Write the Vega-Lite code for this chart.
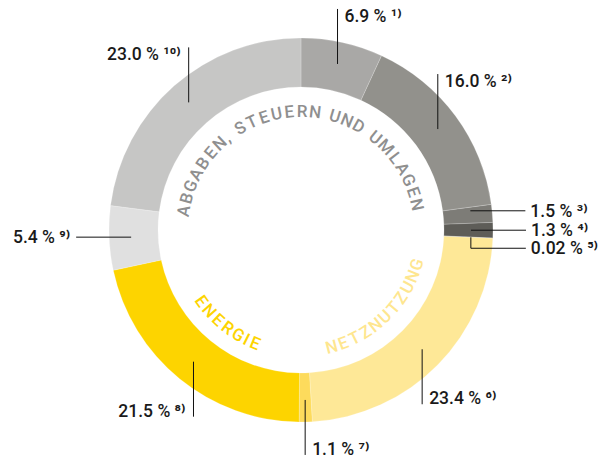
{
  "$schema": "https://vega.github.io/schema/vega-lite/v6.json",
  "width": 610,
  "height": 462,
  "autosize": "none",
  "padding": 0,
  "config": {"view": {"stroke": null}},
  "layer": [
    {
      "data": {"values": [
        {"k": 1, "v": 6.9, "label": "6.9 % ¹⁾"},
        {"k": 2, "v": 16.0, "label": "16.0 % ²⁾"},
        {"k": 3, "v": 1.5, "label": "1.5 % ³⁾"},
        {"k": 4, "v": 1.3, "label": "1.3 % ⁴⁾"},
        {"k": 5, "v": 0.02, "label": "0.02 % ⁵⁾"},
        {"k": 6, "v": 23.4, "label": "23.4 % ⁶⁾"},
        {"k": 7, "v": 1.1, "label": "1.1 % ⁷⁾"},
        {"k": 8, "v": 21.5, "label": "21.5 % ⁸⁾"},
        {"k": 9, "v": 5.4, "label": "5.4 % ⁹⁾"},
        {"k": 10, "v": 23.0, "label": "23.0 % ¹⁰⁾"}
      ]},
      "transform": [
        {"window": [{"op": "sum", "field": "v", "as": "cum"}], "sort": [{"field": "k"}], "frame": [null, 0]},
        {"joinaggregate": [{"op": "sum", "field": "v", "as": "tot"}]},
        {"calculate": "(datum.cum - datum.v/2)/datum.tot*2*PI", "as": "mid"},
        {"calculate": "sin(datum.mid)", "as": "s"},
        {"calculate": "cos(datum.mid)", "as": "c"},
        {"calculate": "abs(datum.s) > 0.95", "as": "side"},
        {"calculate": "170*datum.s", "as": "ax"},
        {"calculate": "170*datum.c", "as": "ay"},
        {"calculate": "datum.v < 0.1 ? datum.ay - 11 : (datum.k == 3 ? datum.ay + 4.5 : datum.ay)", "as": "by"},
        {"calculate": "datum.k == 3 ? datum.by : datum.ay", "as": "ay2"},
        {"calculate": "datum.side ? datum.ax + (datum.s > 0 ? 55 : -55) : datum.ax", "as": "ex"},
        {"calculate": "datum.side ? datum.by : datum.by + (datum.c > 0 ? 55 : -55)", "as": "ey"},
        {"calculate": "datum.ex + (datum.s > 0 ? (datum.side ? 5 : 7) : (datum.side ? -6 : -8))", "as": "lx"},
        {"calculate": "datum.side ? datum.ey - 6 : (datum.c > 0 ? datum.ey - 13 : datum.ey)", "as": "ly"}
      ],
      "layer": [
        {
          "mark": {"type": "arc", "radius": 192, "innerRadius": 143, "stroke": "#ffffff", "strokeWidth": 0.4, "strokeOpacity": 0.5},
          "encoding": {
            "theta": {"field": "v", "type": "quantitative", "stack": true},
            "order": {"field": "k", "type": "quantitative"},
            "x": {"datum": 0, "type": "quantitative", "scale": {"domain": [-301, 309], "zero": false, "nice": false}, "axis": null},
            "y": {"datum": 0, "type": "quantitative", "scale": {"domain": [-232, 230], "zero": false, "nice": false}, "axis": null},
            "color": {"field": "k", "type": "ordinal", "legend": null,
              "scale": {"domain": [1, 2, 3, 4, 5, 6, 7, 8, 9, 10],
                "range": ["#a9a8a6", "#92918c", "#7d7c77", "#5e5d58", "#3e3d3a", "#fee897", "#fddb5c", "#fdd400", "#e0e0e0", "#c6c6c5"]}}
          }
        },
        {
          "mark": {"type": "rule", "color": "#111111", "strokeWidth": 1},
          "encoding": {
            "x": {"field": "ax", "type": "quantitative"},
            "y": {"field": "ay2", "type": "quantitative"},
            "x2": {"field": "ax"},
            "y2": {"field": "by"}
          }
        },
        {
          "mark": {"type": "rule", "color": "#111111", "strokeWidth": 1},
          "encoding": {
            "x": {"field": "ax", "type": "quantitative"},
            "y": {"field": "by", "type": "quantitative"},
            "x2": {"field": "ex"},
            "y2": {"field": "ey"}
          }
        },
        {
          "transform": [{"filter": "datum.s > 0"}],
          "mark": {"type": "text", "align": "left", "baseline": "alphabetic", "font": "Roboto", "fontSize": 17.5, "fontWeight": 500, "color": "#1a1a1a"},
          "encoding": {
            "x": {"field": "lx", "type": "quantitative"},
            "y": {"field": "ly", "type": "quantitative"},
            "text": {"field": "label"}
          }
        },
        {
          "transform": [{"filter": "datum.s <= 0"}],
          "mark": {"type": "text", "align": "right", "baseline": "alphabetic", "font": "Roboto", "fontSize": 17.5, "fontWeight": 500, "color": "#1a1a1a"},
          "encoding": {
            "x": {"field": "lx", "type": "quantitative"},
            "y": {"field": "ly", "type": "quantitative"},
            "text": {"field": "label"}
          }
        }
      ]
    },
    {
      "data": {"values": [{"t": "ABGABEN, STEUERN UND UMLAGEN"}]},
      "transform": [
        {"calculate": "split(datum.t, '')", "as": "ch"},
        {"flatten": ["ch"]},
        {"window": [{"op": "row_number", "as": "i"}]},
        {"calculate": "datum.ch == ' ' ? 0.55 : datum.ch == ',' ? 0.45 : datum.ch == 'I' ? 0.5 : datum.ch == 'M' ? 1.2 : 1", "as": "w"},
        {"window": [{"op": "sum", "field": "w", "as": "cw"}], "sort": [{"field": "i"}], "frame": [null, 0]},
        {"joinaggregate": [{"op": "sum", "field": "w", "as": "tw"}]},
        {"calculate": "-1.6 + (datum.cw - datum.w/2 - datum.tw/2)*12.9/118*180/PI", "as": "deg"},
        {"calculate": "118*sin(datum.deg*PI/180)", "as": "px"},
        {"calculate": "118*cos(datum.deg*PI/180)", "as": "py"},
        {"calculate": "(datum.deg + 360) % 360", "as": "rot"}
      ],
      "mark": {"type": "text", "align": "center", "baseline": "middle", "font": "Roboto", "fontSize": 17, "fontWeight": 500, "color": "#8f8f8f"},
      "encoding": {
        "x": {"field": "px", "type": "quantitative"},
        "y": {"field": "py", "type": "quantitative"},
        "text": {"field": "ch"},
        "angle": {"field": "rot", "type": "quantitative", "scale": null}
      }
    },
    {
      "data": {"values": [{"t": "ENERGIE"}]},
      "transform": [
        {"calculate": "split(datum.t, '')", "as": "ch"},
        {"flatten": ["ch"]},
        {"window": [{"op": "row_number", "as": "i"}]},
        {"calculate": "datum.ch == 'I' ? 0.5 : 1", "as": "w"},
        {"window": [{"op": "sum", "field": "w", "as": "cw"}], "sort": [{"field": "i"}], "frame": [null, 0]},
        {"joinaggregate": [{"op": "sum", "field": "w", "as": "tw"}]},
        {"calculate": "218.3 - (datum.cw - datum.w/2 - datum.tw/2)*12.65/123*180/PI", "as": "deg"},
        {"calculate": "123*sin(datum.deg*PI/180)", "as": "px"},
        {"calculate": "123*cos(datum.deg*PI/180)", "as": "py"},
        {"calculate": "(datum.deg - 180 + 360) % 360", "as": "rot"}
      ],
      "mark": {"type": "text", "align": "center", "baseline": "middle", "font": "Roboto", "fontSize": 17, "fontWeight": 500, "color": "#fdd400"},
      "encoding": {
        "x": {"field": "px", "type": "quantitative"},
        "y": {"field": "py", "type": "quantitative"},
        "text": {"field": "ch"},
        "angle": {"field": "rot", "type": "quantitative", "scale": null}
      }
    },
    {
      "data": {"values": [{"t": "NETZNUTZUNG"}]},
      "transform": [
        {"calculate": "split(datum.t, '')", "as": "ch"},
        {"flatten": ["ch"]},
        {"window": [{"op": "row_number", "as": "i"}]},
        {"calculate": "1", "as": "w"},
        {"window": [{"op": "sum", "field": "w", "as": "cw"}], "sort": [{"field": "i"}], "frame": [null, 0]},
        {"joinaggregate": [{"op": "sum", "field": "w", "as": "tw"}]},
        {"calculate": "136 - (datum.cw - datum.w/2 - datum.tw/2)*12.45/121.5*180/PI", "as": "deg"},
        {"calculate": "121.5*sin(datum.deg*PI/180)", "as": "px"},
        {"calculate": "121.5*cos(datum.deg*PI/180)", "as": "py"},
        {"calculate": "(datum.deg - 180 + 360) % 360", "as": "rot"}
      ],
      "mark": {"type": "text", "align": "center", "baseline": "middle", "font": "Roboto", "fontSize": 17, "fontWeight": 500, "color": "#fee68f"},
      "encoding": {
        "x": {"field": "px", "type": "quantitative"},
        "y": {"field": "py", "type": "quantitative"},
        "text": {"field": "ch"},
        "angle": {"field": "rot", "type": "quantitative", "scale": null}
      }
    }
  ]
}
